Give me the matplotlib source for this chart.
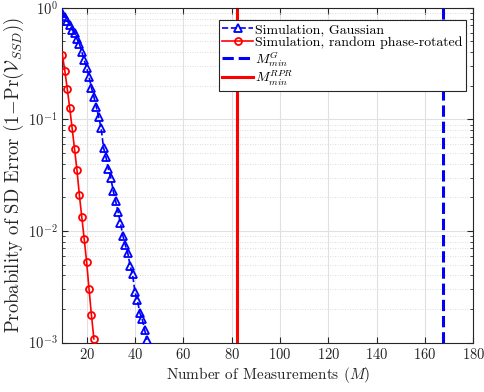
import numpy as np
import matplotlib
matplotlib.use("Agg")
import matplotlib.pyplot as plt
from matplotlib.ticker import LogLocator, NullFormatter, MultipleLocator

plt.rcParams['font.family'] = 'serif'
plt.rcParams['font.serif'] = ['cmr10', 'DejaVu Serif']
plt.rcParams['mathtext.fontset'] = 'cm'
plt.rcParams['axes.formatter.use_mathtext'] = True
plt.rcParams['axes.unicode_minus'] = False

m_gauss = list(range(10, 46))
p_gauss = [0.90, 0.83, 0.765, 0.70, 0.635, 0.597, 0.527, 0.476, 0.404, 0.342,
           0.290, 0.241, 0.192, 0.160, 0.130, 0.105, 0.084, 0.0557, 0.0462, 0.0361,
           0.030, 0.0229, 0.0186, 0.0149, 0.0118, 0.0091, 0.0075, 0.0064, 0.0049, 0.0041,
           0.00285, 0.00242, 0.00185, 0.00163, 0.0013, 0.00106]
m_rpr = list(range(10, 24))
p_rpr = [0.379, 0.272, 0.188, 0.127, 0.084, 0.0545, 0.0353, 0.0211, 0.0134, 0.0085,
         0.0053, 0.00303, 0.00177, 0.00108]
mmin_g = 167.4
mmin_rpr = 82.4

labels = ['Simulation, Gaussian', 'Simulation, random phase-rotated',
          r'$M_{min}^{G}$', r'$M_{min}^{RPR}$']

tc = '#262626'
fig = plt.figure(figsize=(4.84, 3.92), dpi=100)
ax = fig.add_axes([0.129, 0.126, 0.849, 0.854])

ax.semilogy(m_gauss, p_gauss, color='#0000ff', ls='--', lw=1.2, marker='^',
            ms=5.5, mfc='none', mew=1.3, label=labels[0], zorder=3)
ax.semilogy(m_rpr, p_rpr, color='#ff0000', ls='-', lw=1.2, marker='o',
            ms=5, mfc='none', mew=1.3, label=labels[1], zorder=3)
ax.axvline(mmin_g, color='#0000ff', ls='--', lw=2.2, label=labels[2], zorder=2)
ax.axvline(mmin_rpr, color='#ff0000', ls='-', lw=2.2, label=labels[3], zorder=2)

ax.set_xlim(10, 180)
ax.set_ylim(1e-3, 1)
ax.xaxis.set_major_locator(MultipleLocator(20))
ax.yaxis.set_major_locator(LogLocator(base=10, numticks=10))
ax.yaxis.set_minor_locator(LogLocator(base=10, subs=np.arange(2, 10), numticks=10))
ax.yaxis.set_minor_formatter(NullFormatter())

ax.grid(True, which='major', color='#e0e0e0', lw=0.8, ls='-')
ax.grid(True, which='minor', axis='y', color='#d0d0d0', lw=0.6, ls=(0, (1, 2)))
ax.set_axisbelow(True)

ax.tick_params(which='both', direction='in', top=True, right=True, colors=tc,
               labelsize=10.5)
ax.tick_params(which='major', length=4)
ax.tick_params(which='minor', length=2.5)
for s in ax.spines.values():
    s.set_color(tc)
    s.set_linewidth(0.8)

ax.set_xlabel('Number of Measurements $(M)$', fontsize=11, color=tc, labelpad=2)
ax.set_ylabel(r'Probability of SD Error $(1\!-\!\mathrm{Pr}(\mathcal{V}_{SSD}))$',
              fontsize=13.5, color=tc, labelpad=1)

leg = ax.legend(loc='upper right', bbox_to_anchor=(0.982, 0.964), fontsize=10,
                frameon=True, fancybox=False, edgecolor=tc, framealpha=1,
                handlelength=2.2, handletextpad=0.15, borderpad=0.25,
                labelspacing=0.0, borderaxespad=0)
leg.get_frame().set_linewidth(0.8)

fig.savefig('out.png', dpi=100)
